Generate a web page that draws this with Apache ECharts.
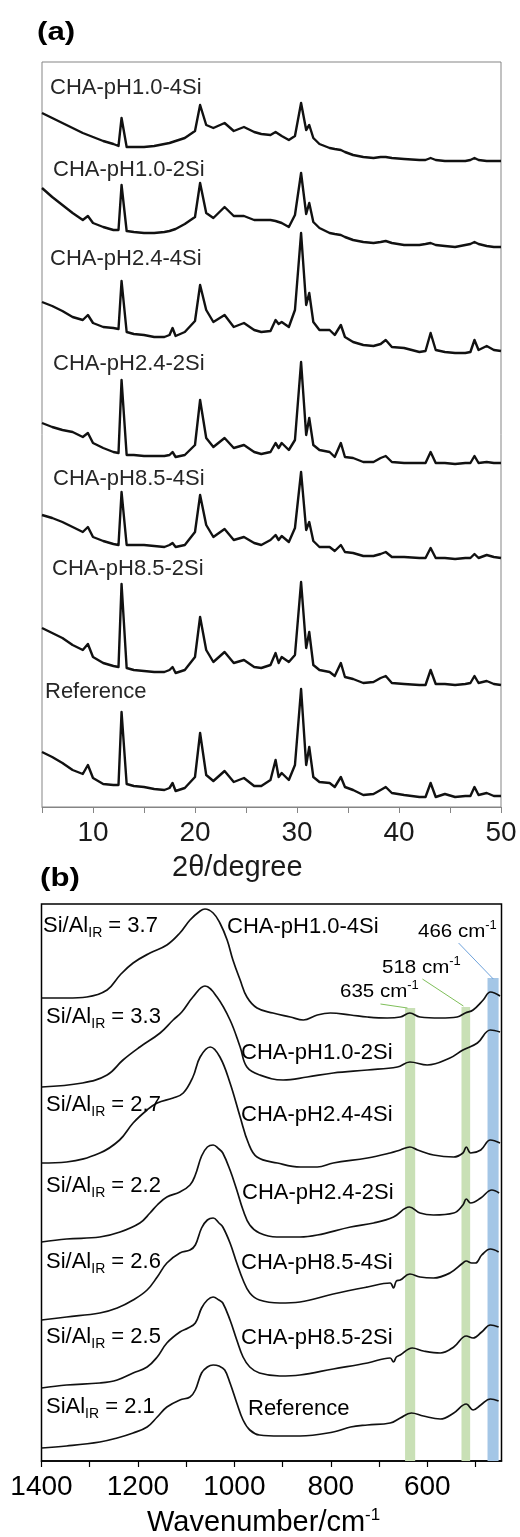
<!DOCTYPE html>
<html><head><meta charset="utf-8">
<script src="https://cdn.jsdelivr.net/npm/echarts@6.0.0/dist/echarts.min.js"></script>
<style>html,body{margin:0;padding:0;background:#fff}#c{width:520px;height:1537px}</style>
</head><body><div id="c"></div>
<script>
// ---------- (a) XRD data: 2theta grid and offset intensities (a.u.) ----------
const twoTheta = [5,6,7,8,9,9.5,10,11,12,12.5,12.8,13.3,14,15,16,17,17.5,17.8,18.1,19,20.0,20.5,21.1,21.8,22.9,23.8,24.8,25.8,26.5,27.4,27.9,28.2,28.5,29.2,29.8,30.4,30.9,31.2,31.6,32.2,33.2,33.7,34.3,34.7,35.5,36.5,37.5,38.2,38.7,39.3,40.5,42,42.6,43.1,43.6,44.5,45.5,46.5,47,47.4,47.8,48.6,49.3,50];
const xrd_pH10_4Si = [694,689,684,679,674,672,670,666,663,661,689,660,660,660,661,663,664,665,666,669,676,702,682,679,684,676,680,675,673,672,675,673,671,667,671,704,677,682,669,663,659,658,657,655,652,650,649,650,650,649,648,647,647,649,647,646,646,646,647,649,647,646,646,646];
const xrd_pH10_2Si = [619,610,602,594,587,591,584,580,577,577,622,576,575,574,574,575,576,577,578,583,590,624,594,589,600,591,591,587,587,587,586,585,584,580,592,634,593,604,585,579,574,573,572,570,567,565,564,565,566,564,562,562,563,564,562,561,560,562,563,565,563,561,560,560];
const xrd_pH24_4Si = [505,501,496,490,487,492,484,480,479,478,526,475,473,472,470,470,472,479,471,475,486,522,497,485,492,480,484,477,475,476,487,483,485,480,497,574,502,514,485,477,477,472,482,470,465,462,461,463,467,460,459,455,456,474,457,455,454,454,455,467,457,461,457,456];
const xrd_pH24_2Si = [384,380,377,375,370,374,364,359,355,354,427,352,352,351,351,351,352,355,350,352,362,407,369,360,369,359,362,355,353,355,364,359,364,357,367,445,372,389,362,357,355,350,364,350,349,345,345,349,351,345,344,344,344,355,344,344,343,344,344,351,344,345,344,344];
const xrd_pH85_4Si = [292,289,285,280,275,280,270,266,263,262,315,262,262,262,261,260,262,264,260,262,275,312,282,270,278,267,270,264,262,267,272,267,271,265,279,335,277,285,266,260,260,256,262,255,254,251,251,253,255,250,250,249,249,259,249,249,248,249,249,253,249,252,250,249];
const xrd_pH85_2Si = [179,174,169,162,157,163,150,144,141,140,223,139,137,136,135,135,137,140,134,137,150,190,157,145,155,144,147,140,139,142,154,144,150,145,152,225,159,175,142,137,135,131,144,130,128,124,125,129,131,124,123,122,122,137,123,123,122,123,124,131,124,126,123,122];
const xrd_ref = [55,50,44,37,33,42,29,23,22,22,95,23,21,20,18,17,19,24,16,19,30,74,32,26,36,25,29,21,21,27,47,30,34,27,42,118,42,60,30,25,24,20,30,20,17,12,13,17,20,14,12,10,10,24,10,13,10,11,11,20,12,14,11,11];
const xrdNames = ['CHA-pH1.0-4Si','CHA-pH1.0-2Si','CHA-pH2.4-4Si','CHA-pH2.4-2Si','CHA-pH8.5-4Si','CHA-pH8.5-2Si','Reference'];
const xrdTicks = [5,10,15,20,25,30,35,40,45,50];
const xrdTickLabels = [10,20,30,40,50];

// ---------- (b) IR data: [wavenumber cm-1, offset absorbance (a.u.)] ----------
const ir_pH10_4Si = [[1400,463],[1347,463],[1306,464],[1264,471],[1237,486],[1210,498],[1175,508],[1140,516],[1113,528],[1092,541],[1071,550],[1061,552],[1044,548],[1030,538],[1015,521],[1003,501],[988,481],[974,464],[953,453],[920,448],[884,444],[857,441],[828,446],[801,448],[759,446],[724,444],[683,443],[656,444],[636,448],[615,444],[573,443],[538,444],[521,448],[505,451],[484,461],[469,469],[449,465]];
const ir_pH10_2Si = [[1400,374],[1315,378],[1264,386],[1231,401],[1196,414],[1154,428],[1127,441],[1109,449],[1086,464],[1061,475],[1036,464],[1009,441],[988,414],[974,394],[947,386],[899,381],[849,384],[795,388],[724,391],[662,394],[636,399],[600,396],[553,403],[526,411],[496,418],[469,431],[449,429]];
const ir_pH24_4Si = [[1400,298],[1348,299],[1279,308],[1238,321],[1210,338],[1181,351],[1160,358],[1127,363],[1106,368],[1086,384],[1071,404],[1050,414],[1030,404],[1009,378],[988,344],[971,318],[953,304],[911,298],[863,294],[828,294],[795,298],[724,303],[677,308],[656,311],[636,314],[620,311],[587,306],[545,304],[526,308],[519,314],[510,308],[489,311],[469,321],[449,318]];
const ir_pH24_2Si = [[1400,219],[1348,222],[1279,224],[1237,229],[1196,238],[1175,248],[1160,256],[1140,264],[1113,269],[1092,276],[1081,286],[1068,305],[1056,314],[1044,316],[1032,312],[1024,308],[1009,291],[995,271],[982,251],[968,236],[948,228],[912,224],[864,224],[828,226],[759,234],[711,238],[670,244],[637,254],[615,248],[587,246],[545,248],[526,256],[519,262],[510,258],[489,263],[466,271],[451,268]];
const ir_pH85_4Si = [[1400,141],[1348,144],[1279,148],[1243,153],[1210,161],[1181,171],[1160,184],[1140,198],[1113,208],[1092,211],[1081,216],[1068,233],[1056,241],[1044,243],[1032,238],[1024,234],[1009,218],[995,198],[982,181],[968,168],[948,161],[906,158],[864,159],[795,167],[724,174],[677,178],[670,173],[664,180],[656,181],[636,187],[615,184],[587,183],[553,188],[526,198],[519,200],[508,198],[500,198],[487,206],[469,212],[452,209]];
const ir_pH85_2Si = [[1400,73],[1348,76],[1279,78],[1243,81],[1210,88],[1181,94],[1160,104],[1140,118],[1113,129],[1096,133],[1081,138],[1068,153],[1056,161],[1044,164],[1032,161],[1024,158],[1009,141],[995,121],[982,104],[968,94],[948,88],[906,85],[864,86],[795,92],[724,98],[677,103],[670,99],[664,104],[656,106],[631,113],[608,110],[573,108],[545,114],[519,125],[505,123],[487,129],[469,136],[452,134]];
const ir_ref = [[1400,13],[1348,15],[1279,19],[1243,23],[1210,28],[1181,34],[1160,44],[1140,54],[1113,61],[1092,64],[1081,71],[1068,88],[1056,94],[1044,96],[1032,95],[1020,91],[1009,78],[995,58],[982,41],[968,31],[948,26],[906,25],[864,25],[795,29],[759,34],[724,36],[677,38],[656,43],[633,48],[608,45],[573,42],[545,48],[519,57],[505,51],[489,56],[469,62],[452,60]];
const irRatios = ['3.7','3.3','2.7','2.2','2.6','2.5','2.1'];
const irTicks = [1400,1300,1200,1100,1000,900,800,700,600,500];
const irTickLabels = [1400,1200,1000,800,600];
// highlighted bands [from, to, top] in cm-1 / a.u.
const bandGreen635 = [646, 625, 453];
const bandGreen518 = [529, 511, 454];
const bandBlue466 = [475, 452, 483];

const FONT = '"Liberation Sans", Arial, sans-serif';
const GREEN = '#c9e0b6', BLUE = '#a4c6e6', GREEN_LINE = '#7fbf5a', BLUE_LINE = '#6fa3dc';

const chart = echarts.init(document.getElementById('c'), null, {renderer: 'canvas'});

const xrdSets = [xrd_pH10_4Si, xrd_pH10_2Si, xrd_pH24_4Si, xrd_pH24_2Si, xrd_pH85_4Si, xrd_pH85_2Si, xrd_ref];
const irSets = [ir_pH10_4Si, ir_pH10_2Si, ir_pH24_4Si, ir_pH24_2Si, ir_pH85_4Si, ir_pH85_2Si, ir_ref];

const series = [];
xrdSets.forEach((arr, k) => {
  series.push({
    name: xrdNames[k], type: 'line', xAxisIndex: 0, yAxisIndex: 0,
    data: twoTheta.map((t, i) => [t, arr[i]]),
    symbol: 'none', lineStyle: {color: '#111', width: 2.4, join: 'round'}, z: 3, silent: true
  });
});
series.push({
  type: 'line', xAxisIndex: 1, yAxisIndex: 1, data: [], z: 1, silent: true,
  markArea: {
    silent: true,
    data: [
      [{xAxis: bandGreen635[0], yAxis: 0, itemStyle: {color: GREEN}}, {xAxis: bandGreen635[1], yAxis: bandGreen635[2]}],
      [{xAxis: bandGreen518[0], yAxis: 0, itemStyle: {color: GREEN}}, {xAxis: bandGreen518[1], yAxis: bandGreen518[2]}],
      [{xAxis: bandBlue466[0], yAxis: 0, itemStyle: {color: BLUE}}, {xAxis: bandBlue466[1], yAxis: bandBlue466[2]}]
    ]
  },
  markLine: {
    silent: true, symbol: ['none', 'none'], label: {show: false},
    lineStyle: {type: 'solid', width: 1},
    data: [
      [{coord: [535, 518], lineStyle: {color: BLUE_LINE, width: 1, type: 'solid'}}, {coord: [463, 482]}],
      [{coord: [610, 482], lineStyle: {color: GREEN_LINE, width: 1, type: 'solid'}}, {coord: [525, 455]}],
      [{coord: [697, 457], lineStyle: {color: GREEN_LINE, width: 1, type: 'solid'}}, {coord: [641, 453]}]
    ]
  }
});
irSets.forEach((arr, k) => {
  series.push({
    name: 'IR ' + xrdNames[k], type: 'line', xAxisIndex: 1, yAxisIndex: 1,
    data: arr, smooth: 0.4, symbol: 'none',
    lineStyle: {color: '#111', width: 1.7}, z: 3, silent: true
  });
});

// ---------- text helpers ----------
const cv = document.createElement('canvas').getContext('2d');
function tw(t, s, w) { cv.font = (w || 'normal') + ' ' + s + 'px ' + FONT; return cv.measureText(t).width; }
const graphics = [];
function txt(x, y, parts, color, sx) {
  let cx = x;
  sx = sx || 1;
  parts.forEach(p => {
    graphics.push({type: 'text', x: cx, y: y + (p.dy || 0), scaleX: sx, silent: true, z: 10,
      style: {text: p.t, fontSize: p.s, fontFamily: FONT, fontWeight: p.w || 'normal',
        fill: color || '#1a1a1a', align: 'left', verticalAlign: 'middle'}});
    cx += (tw(p.t, p.s, p.w) + (p.gap || 0)) * sx;
  });
}
// panel letters
txt(37, 33, [{t: '(a)', s: 26, w: 'bold'}], '#000', 1.2);
txt(40, 879, [{t: '(b)', s: 26, w: 'bold'}], '#000', 1.2);
// (a) curve names
const xrdLabelPos = [[50, 88], [53, 170], [50, 259], [53, 364], [53, 479], [52, 569], [45, 692]];
xrdNames.forEach((n, k) => txt(xrdLabelPos[k][0], xrdLabelPos[k][1], [{t: n, s: 22}], '#262626'));
// (a) axis title
txt(172, 868, [{t: '2θ/degree', s: 29}], '#1a1a1a');
// (b) ratio labels and names
const irLeftY = [926, 1017, 1105, 1186, 1262, 1337, 1407];
const irNameXY = [[227, 927], [241, 1053], [241, 1115], [242, 1193], [241, 1263], [241, 1338], [248, 1409]];
irRatios.forEach((r, k) => {
  const lead = k === 6 ? 'SiAl' : 'Si/Al';
  txt(k === 0 ? 43 : 46, irLeftY[k], [{t: lead, s: 22}, {t: 'IR', s: 14, dy: 7}, {t: ' = ' + r, s: 22}], '#000');
  txt(irNameXY[k][0], irNameXY[k][1], [{t: xrdNames[k], s: 22}], '#000');
});
// (b) band annotations
txt(418, 932, [{t: '466 cm', s: 19}, {t: '-1', s: 12, dy: -6}], '#000', 1.08);
txt(382, 968, [{t: '518 cm', s: 19}, {t: '-1', s: 12, dy: -6}], '#000', 1.08);
txt(340, 992, [{t: '635 cm', s: 19}, {t: '-1', s: 12, dy: -6}], '#000', 1.08);
// (b) axis title
txt(147, 1523, [{t: 'Wavenumber/cm', s: 29}, {t: '-1', s: 17, dy: -8}], '#000');

chart.setOption({
  backgroundColor: '#fff',
  animation: false,
  grid: [
    {left: 42, top: 62, width: 459, height: 745, show: true, borderColor: '#858585', borderWidth: 1, backgroundColor: 'transparent'},
    {left: 41.5, top: 904, width: 460, height: 557, show: true, borderColor: '#000', borderWidth: 1.5, backgroundColor: 'transparent'}
  ],
  xAxis: [
    {type: 'value', gridIndex: 0, min: 5, max: 50, interval: 5,
      axisLine: {show: true, onZero: false, lineStyle: {color: '#858585', width: 1}},
      axisTick: {show: true, customValues: xrdTicks, length: 6, lineStyle: {color: '#858585'}},
      axisLabel: {show: true, customValues: xrdTickLabels, fontSize: 28, fontFamily: FONT, color: '#1a1a1a', margin: 12,
        formatter: v => String(v)},
      splitLine: {show: false}},
    {type: 'value', gridIndex: 1, min: 446, max: 1400, inverse: true,
      axisLine: {show: true, onZero: false, lineStyle: {color: '#000', width: 1.5}},
      axisTick: {show: true, customValues: irTicks, length: 6, lineStyle: {color: '#000', width: 1.2}},
      axisLabel: {show: true, customValues: irTickLabels, fontSize: 28, fontFamily: FONT, color: '#000', margin: 12,
        formatter: v => String(v)},
      splitLine: {show: false}}
  ],
  yAxis: [
    {type: 'value', gridIndex: 0, min: 0, max: 745, show: false, splitLine: {show: false}},
    {type: 'value', gridIndex: 1, min: 0, max: 557, show: false, splitLine: {show: false}}
  ],
  series: series,
  graphic: {elements: graphics}
});
</script></body></html>
